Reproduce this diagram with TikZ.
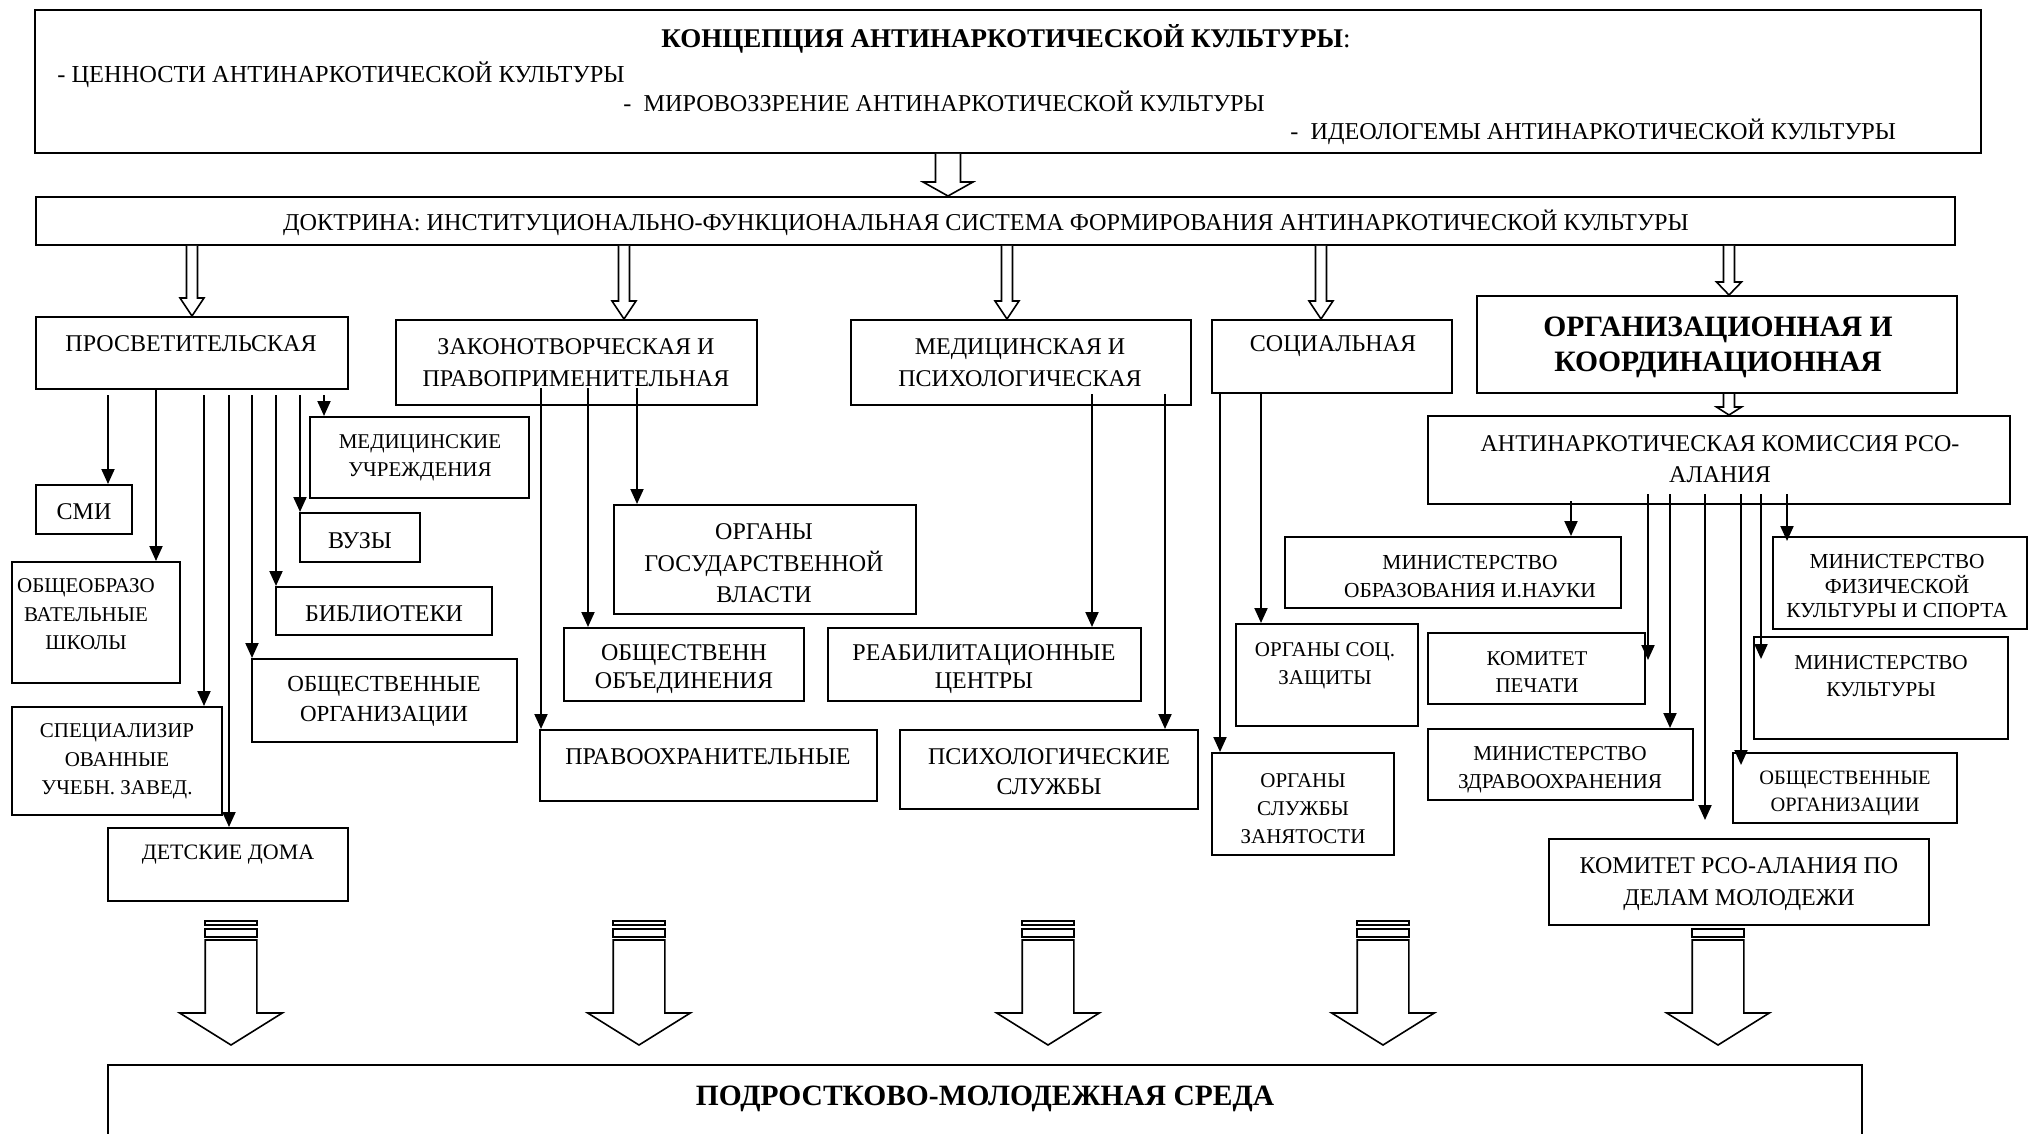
\documentclass[tikz,border=0pt]{standalone}
\usepackage{fontspec}
\setmainfont{Liberation Serif}
\usetikzlibrary{arrows.meta,calc,fit}
\newcommand\myfs[2]{\fontsize{#1}{#2}\selectfont}
\tikzset{
  box/.style={draw, line width=1pt, fill=white, inner sep=0pt},
  txt/.style={inner sep=0pt, align=center, yshift=-0.75pt},
  arr/.style={line width=1pt, -{Triangle[length=7.5pt,width=6.5pt]}},
  hollow/.style={line width=0.8pt, fill=white, line join=miter},
  blk/.style={line width=0.8pt, fill=white},
}
\newcommand\harrow[6]{%
  \draw[hollow] let \p1=(#1.south -| #3,0), \p2=(#2.north -| #3,0) in
   (\x1-#4*0.5pt,\y1) -- (\x1-#4*0.5pt,\y2+#6*0.5pt) -- (\x1-#5*0.5pt,\y2+#6*0.5pt)
   -- (\x1,\y2) -- (\x1+#5*0.5pt,\y2+#6*0.5pt) -- (\x1+#4*0.5pt,\y2+#6*0.5pt) -- (\x1+#4*0.5pt,\y1);}
\newcommand\sarrow[2]{%
  \ifnum#2=1 \draw[blk] (#1-25.8,921) rectangle (#1+25.8,925);\fi
  \draw[blk] (#1-25.8,929) rectangle (#1+25.8,937);
  \draw[blk] (#1-25.8,940) -- (#1-25.8,1013) -- (#1-51.3,1013) -- (#1,1045)
    -- (#1+51.3,1013) -- (#1+25.8,1013) -- (#1+25.8,940) -- cycle;}
\begin{document}
\begin{tikzpicture}[x=0.5pt,y=-0.5pt]
\useasboundingbox (0,0) rectangle (2033,1134);
\fill[white] (0,0) rectangle (2033,1134);

% ---------- top ----------
\node[box, fit={(35,10)(1981,153)}] (conc) {};
\node[txt, font=\myfs{13.5}{15}] (conc-t1) at (1006,37) {\textbf{КОНЦЕПЦИЯ АНТИНАРКОТИЧЕСКОЙ КУЛЬТУРЫ}:};
\node[txt, font=\myfs{12.2}{14}, anchor=west] (conc-t2) at (57,73) {- ЦЕННОСТИ АНТИНАРКОТИЧЕСКОЙ КУЛЬТУРЫ};
\node[txt, font=\myfs{12.1}{14}, anchor=west] (conc-t3) at (623,100) {-\ \ МИРОВОЗЗРЕНИЕ АНТИНАРКОТИЧЕСКОЙ КУЛЬТУРЫ};
\node[txt, font=\myfs{12.1}{14}, anchor=west] (conc-t4) at (1290,130) {-\ \ ИДЕОЛОГЕМЫ АНТИНАРКОТИЧЕСКОЙ КУЛЬТУРЫ};

\node[box, fit={(36,197)(1955,245)}] (doct) {};
\node[txt, font=\myfs{12.1}{14}] (doct-t) at (986,221) {ДОКТРИНА: ИНСТИТУЦИОНАЛЬНО-ФУНКЦИОНАЛЬНАЯ СИСТЕМА ФОРМИРОВАНИЯ АНТИНАРКОТИЧЕСКОЙ КУЛЬТУРЫ};

% ---------- categories ----------
\node[box, fit={(36,317)(348,389)}] (prosv) {};
\node[txt, font=\myfs{12}{14}] (prosv-t) at (191,342) {ПРОСВЕТИТЕЛЬСКАЯ};
\node[box, fit={(396,320)(757,405)}] (zakon) {};
\node[txt, font=\myfs{12}{16}] (zakon-t) at (576,361) {ЗАКОНОТВОРЧЕСКАЯ И\\ПРАВОПРИМЕНИТЕЛЬНАЯ};
\node[box, fit={(851,320)(1191,405)}] (med) {};
\node[txt, font=\myfs{12}{16}] (med-t) at (1020,361) {МЕДИЦИНСКАЯ И\\ПСИХОЛОГИЧЕСКАЯ};
\node[box, fit={(1212,320)(1452,393)}] (soc) {};
\node[txt, font=\myfs{12}{14}] (soc-t) at (1333,345) {СОЦИАЛЬНАЯ};
\node[box, fit={(1477,296)(1957,393)}] (org) {};
\node[txt, font=\myfs{14.8}{17.2}\bfseries] (org-t) at (1718,346) {ОРГАНИЗАЦИОННАЯ И\\КООРДИНАЦИОННАЯ};
\node[box, fit={(1428,416)(2010,504)}] (kom) {};
\node[txt, font=\myfs{12}{15.5}] (kom-t) at (1720,458) {АНТИНАРКОТИЧЕСКАЯ КОМИССИЯ РСО-\\АЛАНИЯ};

% ---------- prosv children ----------
\node[box, fit={(36,485)(132,534)}] (smi) {};
\node[txt, font=\myfs{12}{14}] (smi-t) at (84,510) {СМИ};
\node[box, fit={(12,562)(180,683)}] (obsh) {};
\node[txt, font=\myfs{10.5}{14.25}] (obsh-t) at (86,613) {ОБЩЕОБРАЗО\\ВАТЕЛЬНЫЕ\\ШКОЛЫ};
\node[box, fit={(12,707)(222,815)}] (spec) {};
\node[txt, font=\myfs{10.5}{14.25}] (spec-t) at (117,760) {СПЕЦИАЛИЗИР\\ОВАННЫЕ\\УЧЕБН. ЗАВЕД.};
\node[box, fit={(108,828)(348,901)}] (det) {};
\node[txt, font=\myfs{11}{14}] (det-t) at (228,853) {ДЕТСКИЕ ДОМА};
\node[box, fit={(310,417)(529,498)}] (medu) {};
\node[txt, font=\myfs{10.5}{14}] (medu-t) at (420,456) {МЕДИЦИНСКИЕ\\УЧРЕЖДЕНИЯ};
\node[box, fit={(300,513)(420,562)}] (vuz) {};
\node[txt, font=\myfs{12}{14}] (vuz-t) at (360,539) {ВУЗЫ};
\node[box, fit={(276,587)(492,635)}] (bibl) {};
\node[txt, font=\myfs{12}{14}] (bibl-t) at (384,612) {БИБЛИОТЕКИ};
\node[box, fit={(252,659)(517,742)}] (obor) {};
\node[txt, font=\myfs{11.5}{15}] (obor-t) at (384,700) {ОБЩЕСТВЕННЫЕ\\ОРГАНИЗАЦИИ};

% ---------- zakon / med children ----------
\node[box, fit={(614,505)(916,614)}] (organ) {};
\node[txt, font=\myfs{12}{15.75}] (organ-t) at (764,562) {ОРГАНЫ\\ГОСУДАРСТВЕННОЙ\\ВЛАСТИ};
\node[box, fit={(564,628)(804,701)}] (obed) {};
\node[txt, font=\myfs{12}{14}] (obed-t) at (684,668) {ОБЩЕСТВЕНН\\ОБЪЕДИНЕНИЯ};
\node[box, fit={(540,730)(877,801)}] (pravo) {};
\node[txt, font=\myfs{12}{14}] (pravo-t) at (708,755) {ПРАВООХРАНИТЕЛЬНЫЕ};
\node[box, fit={(828,628)(1141,701)}] (reab) {};
\node[txt, font=\myfs{12}{14}] (reab-t) at (984,668) {РЕАБИЛИТАЦИОННЫЕ\\ЦЕНТРЫ};
\node[box, fit={(900,730)(1198,809)}] (psih) {};
\node[txt, font=\myfs{12}{15}] (psih-t) at (1049,770) {ПСИХОЛОГИЧЕСКИЕ\\СЛУЖБЫ};

% ---------- soc children ----------
\node[box, fit={(1236,624)(1418,726)}] (orgsoc) {};
\node[txt, font=\myfs{10.5}{14}] (orgsoc-t) at (1325,664) {ОРГАНЫ СОЦ.\\ЗАЩИТЫ};
\node[box, fit={(1212,753)(1394,855)}] (orgsl) {};
\node[txt, font=\myfs{10.5}{14}] (orgsl-t) at (1303,807) {ОРГАНЫ\\СЛУЖБЫ\\ЗАНЯТОСТИ};

% ---------- kom children ----------
\node[box, fit={(1285,537)(1621,608)}] (minobr) {};
\node[txt, font=\myfs{10.7}{14}] (minobr-t) at (1470,575) {МИНИСТЕРСТВО\\ОБРАЗОВАНИЯ И.НАУКИ};
\node[box, fit={(1428,633)(1645,704)}] (pech) {};
\node[txt, font=\myfs{10.5}{13.5}] (pech-t) at (1537,671) {КОМИТЕТ\\ПЕЧАТИ};
\node[box, fit={(1428,729)(1693,800)}] (zdrav) {};
\node[txt, font=\myfs{10.6}{14}] (zdrav-t) at (1560,768) {МИНИСТЕРСТВО\\ЗДРАВООХРАНЕНИЯ};
\node[box, fit={(1549,839)(1929,925)}] (komrso) {};
\node[txt, font=\myfs{12}{16}] (komrso-t) at (1739,883) {КОМИТЕТ РСО-АЛАНИЯ ПО\\ДЕЛАМ МОЛОДЕЖИ};
\node[box, fit={(1733,753)(1957,823)}] (oborr) {};
\node[txt, font=\myfs{10.2}{13.5}] (oborr-t) at (1845,792) {ОБЩЕСТВЕННЫЕ\\ОРГАНИЗАЦИИ};
\node[box, fit={(1754,637)(2008,739)}] (minkult) {};
\node[txt, font=\myfs{10.6}{13.5}] (minkult-t) at (1881,675) {МИНИСТЕРСТВО\\КУЛЬТУРЫ};
\node[box, fit={(1773,537)(2027,629)}] (minfiz) {};
\node[txt, font=\myfs{10.7}{12.25}] (minfiz-t) at (1897,585) {МИНИСТЕРСТВО\\ФИЗИЧЕСКОЙ\\КУЛЬТУРЫ И СПОРТА};

% ---------- bottom ----------
\node[box, fit={(108,1065)(1862,1170)}] (sreda) {};
\node[txt, font=\myfs{14.75}{16}\bfseries] (sreda-t) at (985,1097) {ПОДРОСТКОВО-МОЛОДЕЖНАЯ СРЕДА};

% ---------- hollow arrows ----------
\harrow{conc}{doct}{948}{12.5}{25}{14}
\harrow{doct}{prosv}{192}{5.5}{12}{18}
\harrow{doct}{zakon}{624}{5.5}{12}{18}
\harrow{doct}{med}{1007}{5.5}{12}{18}
\harrow{doct}{soc}{1321}{5.5}{12}{18}
\harrow{doct}{org}{1729}{5.5}{12.5}{13}
\harrow{org}{kom}{1729}{5.5}{12.5}{8}

% ---------- thin arrows ----------
\draw[arr] ($(prosv.south -| 108,0)+(0,5)$) -- (smi.north -| 108,0);
\draw[arr] (prosv.south -| 156,0) -- (obsh.north -| 156,0);
\draw[arr] ($(prosv.south -| 204,0)+(0,5)$) -- (spec.north -| 204,0);
\draw[arr] ($(prosv.south -| 229,0)+(0,5)$) -- (det.north -| 229,0);
\draw[arr] ($(prosv.south -| 252,0)+(0,5)$) -- (obor.north -| 252,0);
\draw[arr] ($(prosv.south -| 276,0)+(0,5)$) -- (bibl.north -| 276,0);
\draw[arr] ($(prosv.south -| 300,0)+(0,5)$) -- (vuz.north -| 300,0);
\draw[arr] ($(prosv.south -| 324,0)+(0,5)$) -- (medu.north -| 324,0);

\draw[arr] ($(zakon.south -| 541,0)+(0,-18)$) -- (pravo.north -| 541,0);
\draw[arr] ($(zakon.south -| 588,0)+(0,-18)$) -- (obed.north -| 588,0);
\draw[arr] ($(zakon.south -| 637,0)+(0,-18)$) -- (organ.north -| 637,0);

\draw[arr] ($(med.south -| 1092,0)+(0,-12)$) -- (reab.north -| 1092,0);
\draw[arr] ($(med.south -| 1165,0)+(0,-12)$) -- (psih.north -| 1165,0);

\draw[arr] (soc.south -| 1220,0) -- (orgsl.north -| 1220,0);
\draw[arr] (soc.south -| 1261,0) -- (orgsoc.north -| 1261,0);

\draw[arr] ($(kom.south -| 1571,0)+(0,-4)$) -- (minobr.north -| 1571,0);
\draw[arr] ($(kom.south -| 1648,0)+(0,-11)$) -- ($(pech.north -| 1648,0)+(0,28)$);
\draw[arr] ($(kom.south -| 1670,0)+(0,-11)$) -- (zdrav.north -| 1670,0);
\draw[arr] ($(kom.south -| 1705,0)+(0,-11)$) -- ($(komrso.north -| 1705,0)+(0,-18)$);
\draw[arr] ($(kom.south -| 1741,0)+(0,-11)$) -- ($(oborr.north -| 1741,0)+(0,13)$);
\draw[arr] ($(kom.south -| 1761,0)+(0,-11)$) -- ($(minkult.north -| 1761,0)+(0,23)$);
\draw[arr] ($(kom.south -| 1787,0)+(0,-11)$) -- ($(minfiz.north -| 1787,0)+(0,5)$);

% ---------- striped block arrows ----------
\sarrow{231}{1}
\sarrow{639}{1}
\sarrow{1048}{1}
\sarrow{1383}{1}
\sarrow{1718}{0}
\end{tikzpicture}
\end{document}
